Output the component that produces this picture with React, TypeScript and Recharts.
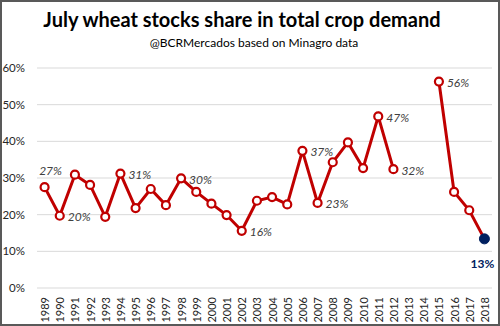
import React from 'react';
import { LineChart, Line, XAxis, YAxis, CartesianGrid, LabelList } from 'recharts';

const years = ['1989','1990','1991','1992','1993','1994','1995','1996','1997','1998','1999','2000','2001','2002','2003','2004','2005','2006','2007','2008','2009','2010','2011','2012','2013','2014','2015','2016','2017','2018'];
const shares: (number | null)[] = [27.5,19.7,30.9,28.1,19.4,31.2,21.8,27.0,22.6,29.9,26.2,23.0,19.9,15.6,23.8,24.8,22.8,37.4,23.2,34.3,39.7,32.7,46.8,32.4,null,null,56.3,26.2,21.2,13.4];
const labels: (string | null)[] = ['27%','20%',null,null,null,'31%',null,null,null,'30%',null,null,null,'16%',null,null,null,'37%','23%',null,null,null,'47%','32%',null,null,'56%',null,null,'13%'];
const yTicks = [0, 10, 20, 30, 40, 50, 60];

const data = years.map((y, i) => ({ year: y, share: shares[i], label: labels[i] }));

const FONT = 'Lato, "Open Sans", sans-serif';
const RED = '#C00000';
const NAVY = '#002060';

const Dot = (props: any) => {
  const { cx, cy, payload } = props;
  if (payload == null || payload.share == null || cx == null || cy == null) return null;
  if (payload.year === '2018') {
    return <circle cx={cx} cy={cy} r={5} fill={NAVY} stroke={NAVY} strokeWidth={1} />;
  }
  return <circle cx={cx} cy={cy} r={4} fill="#fff" stroke={RED} strokeWidth={2.2} />;
};

const Lbl = (props: any) => {
  const { x, y, value, index } = props;
  if (!value) return null;
  const yr = years[index];
  if (yr === '2018') {
    return (
      <text x={x - 2} y={y + 25} textAnchor="middle" dominantBaseline="central" fill={NAVY} fontFamily={FONT} fontSize={12} fontWeight="bold">{value}</text>
    );
  }
  if (yr === '1989') {
    return (
      <text x={x + 6} y={y - 17} textAnchor="middle" dominantBaseline="central" fill="#404040" fontFamily={FONT} fontSize={12} fontStyle="italic">{value}</text>
    );
  }
  return (
    <text x={x + 8} y={y + 1} textAnchor="start" dominantBaseline="central" fill="#404040" fontFamily={FONT} fontSize={12} fontStyle="italic">{value}</text>
  );
};

const XTick = (props: any) => {
  const { x, payload } = props;
  const ty = 297;
  return (
    <text x={x} y={ty} transform={`rotate(-90, ${x}, ${ty})`} textAnchor="end" dominantBaseline="central" fill="#262626" fontFamily={FONT} fontSize={11}>{payload.value}</text>
  );
};

export default function App() {
  return (
    <div style={{ position: 'absolute', left: 0, top: 0, width: 500, height: 326, boxSizing: 'border-box', border: '2px solid #595959', background: '#fff', overflow: 'hidden' }}>
      <div style={{ position: 'absolute', left: -2, top: -2, width: 500 }}>
        <div style={{ position: 'absolute', left: 0, width: 484, top: 7, textAlign: 'center', fontFamily: FONT, fontWeight: 'bold', fontSize: 20, color: '#000', whiteSpace: 'nowrap' }}>July wheat stocks share in total crop demand</div>
        <div style={{ position: 'absolute', left: 0, width: 508, top: 35, textAlign: 'center', fontFamily: FONT, fontSize: 12, color: '#000', whiteSpace: 'nowrap' }}>@BCRMercados based on Minagro data</div>
      </div>
      <div style={{ position: 'absolute', left: -2, top: -2 }}>
        <LineChart width={500} height={326} data={data} margin={{ top: 68, right: 8, bottom: 2, left: 0 }}>
          <CartesianGrid vertical={false} stroke="#d9d9d9" strokeWidth={1} />
          <XAxis dataKey="year" scale="band" interval={0} axisLine={false} tickLine={false} height={36} tick={<XTick />} />
          <YAxis domain={[0, 60]} ticks={yTicks} width={37} axisLine={false} tickLine={false} tickMargin={6} tickFormatter={(v: number) => `${v}%`} tick={{ fill: '#262626', fontFamily: FONT, fontSize: 11.5 }} />
          <Line dataKey="share" stroke={RED} strokeWidth={3} isAnimationActive={false} dot={<Dot />} activeDot={false} connectNulls={false}>
            <LabelList dataKey="label" content={<Lbl />} />
          </Line>
        </LineChart>
      </div>
    </div>
  );
}
